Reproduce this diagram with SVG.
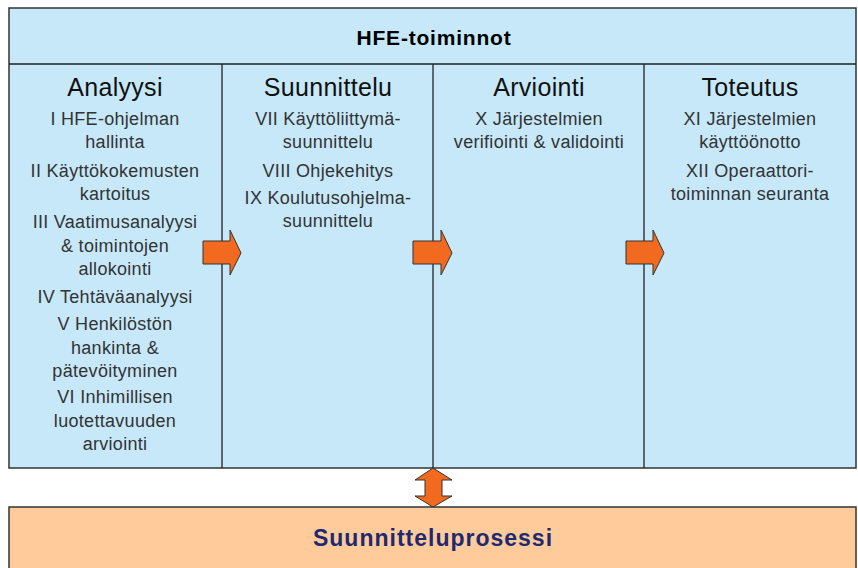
<svg xmlns="http://www.w3.org/2000/svg" width="858" height="568" viewBox="0 0 858 568">
<style>
.box{fill:#C6E8F9;stroke:#333;stroke-width:1.5}
.div{stroke:#222;stroke-width:1.3}
.title{font-family:"Liberation Sans",Arial,sans-serif;font-weight:bold;font-size:21px;letter-spacing:0.8px;fill:#000;text-anchor:middle}
.head{font-family:"Liberation Sans",Arial,sans-serif;font-size:25px;letter-spacing:0.3px;fill:#111;text-anchor:middle}
.body{font-family:"Liberation Sans",Arial,sans-serif;font-size:18px;letter-spacing:0.3px;fill:#333;text-anchor:middle}
.arrow{fill:#F26A1F;stroke:#333;stroke-width:1}
.proc{fill:#FFCB9B;stroke:#333;stroke-width:1.5}
.ptext{font-family:"Liberation Sans",Arial,sans-serif;font-weight:bold;font-size:23px;letter-spacing:1px;fill:#1E2A70;text-anchor:middle}
</style>
<rect width="858" height="568" fill="#fff"/>
<g id="hfe-toiminnot">
<rect class="box" x="9" y="8" width="847" height="460"/>
<line class="div" x1="9" y1="64" x2="856" y2="64"/>
<text class="title" x="434" y="45">HFE-toiminnot</text>
</g>
<g id="analyysi">
<line class="div" x1="222" y1="64" x2="222" y2="468"/>
<text class="head" x="115" y="96">Analyysi</text>
<text class="body" x="115" y="125">I HFE-ohjelman</text>
<text class="body" x="115" y="148">hallinta</text>
<text class="body" x="115" y="177">II Käyttökokemusten</text>
<text class="body" x="115" y="200">kartoitus</text>
<text class="body" x="115" y="228">III Vaatimusanalyysi</text>
<text class="body" x="115" y="252">&amp; toimintojen</text>
<text class="body" x="115" y="275">allokointi</text>
<text class="body" x="115" y="303">IV Tehtäväanalyysi</text>
<text class="body" x="115" y="330">V Henkilöstön</text>
<text class="body" x="115" y="354">hankinta &amp;</text>
<text class="body" x="115" y="377">pätevöityminen</text>
<text class="body" x="115" y="403">VI Inhimillisen</text>
<text class="body" x="115" y="427">luotettavuuden</text>
<text class="body" x="115" y="450">arviointi</text>
</g>
<g id="suunnittelu">
<line class="div" x1="433" y1="64" x2="433" y2="468"/>
<text class="head" x="328" y="96">Suunnittelu</text>
<text class="body" x="328" y="125">VII Käyttöliittymä-</text>
<text class="body" x="328" y="148">suunnittelu</text>
<text class="body" x="328" y="177">VIII Ohjekehitys</text>
<text class="body" x="328" y="204">IX Koulutusohjelma-</text>
<text class="body" x="328" y="227">suunnittelu</text>
</g>
<g id="arviointi">
<line class="div" x1="644" y1="64" x2="644" y2="468"/>
<text class="head" x="539" y="96">Arviointi</text>
<text class="body" x="539" y="125">X Järjestelmien</text>
<text class="body" x="539" y="148">verifiointi &amp; validointi</text>
</g>
<g id="toteutus">
<text class="head" x="750" y="96">Toteutus</text>
<text class="body" x="750" y="125">XI Järjestelmien</text>
<text class="body" x="750" y="148">käyttöönotto</text>
<text class="body" x="750" y="177">XII Operaattori-</text>
<text class="body" x="750" y="200">toiminnan seuranta</text>
</g>
<g id="suunnitteluprosessi">
<rect class="proc" x="9" y="507" width="847" height="70"/>
<text class="ptext" x="433" y="546">Suunnitteluprosessi</text>
</g>
<g id="connectors">
<polygon class="arrow" points="203,241 230,241 230,230 241,253 230,275 230,264 203,264"/>
<polygon class="arrow" points="413,241 441,241 441,230 452,253 441,275 441,264 413,264"/>
<polygon class="arrow" points="626,241 653,241 653,230 664,253 653,275 653,264 626,264"/>
<polygon class="arrow" points="433,468 452,480 442,480 442,496 452,496 433,507 415,496 425,496 425,480 415,480"/>
</g>
</svg>
